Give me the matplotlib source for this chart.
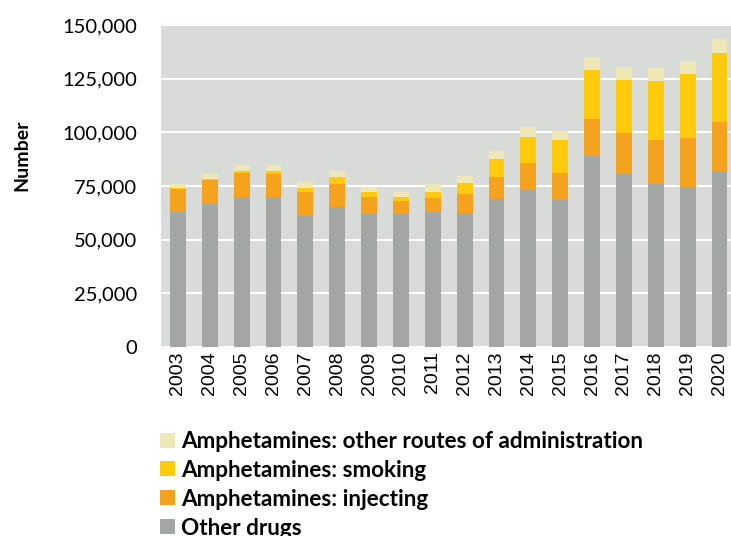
import matplotlib
matplotlib.use("Agg")
import matplotlib.pyplot as plt
import numpy as np
from matplotlib.ticker import FuncFormatter
from matplotlib.patches import Patch

years = [str(y) for y in range(2003, 2021)]
other_drugs = [62.9, 66.7, 69.9, 69.8, 60.8, 65.3, 62.0, 62.0, 62.9, 62.5,
               69.0, 73.2, 68.4, 89.0, 80.8, 76.0, 74.7, 82.1]
amph_injecting = [10.8, 11.2, 11.2, 10.9, 11.3, 10.8, 8.1, 6.1, 6.3, 8.8,
                  10.1, 12.6, 12.7, 17.3, 19.0, 20.5, 22.7, 22.8]
amph_smoking = [0.3, 0.4, 0.8, 1.5, 2.2, 3.0, 2.2, 1.8, 2.9, 5.2,
                8.4, 11.9, 15.2, 22.8, 24.5, 27.4, 29.9, 32.2]
amph_other_routes = [2.0, 2.4, 2.8, 2.5, 2.6, 2.8, 2.4, 2.2, 3.9, 3.2,
                     3.9, 4.6, 4.4, 5.9, 6.2, 6.0, 5.9, 6.2]

series = [
    ("Other drugs", other_drugs, "#A2A7A6"),
    ("Amphetamines: injecting", amph_injecting, "#F5A31F"),
    ("Amphetamines: smoking", amph_smoking, "#FDCB0B"),
    ("Amphetamines: other routes of administration", amph_other_routes, "#EEE8B6"),
]

fig = plt.figure(figsize=(7.31, 5.36), dpi=100)
ax = fig.add_axes([161 / 731, 1 - 347 / 536, 570 / 731, 322 / 536])
ax.set_facecolor("#D9DBD8")

x = np.arange(len(years))
bottom = np.zeros(len(years))
for name, vals, color in series:
    v = np.array(vals) * 1000
    ax.bar(x, v, width=0.5, bottom=bottom, color=color, zorder=3, linewidth=0)
    bottom += v

ax.set_xlim(-0.53, 17.36)
ax.set_ylim(0, 150000)
ax.set_yticks(np.arange(0, 150001, 25000))
ax.yaxis.set_major_formatter(FuncFormatter(lambda v, p: f"{int(v):,}"))
ax.grid(axis="y", color="white", linewidth=1.5, zorder=1)
ax.set_axisbelow(True)
for s in ax.spines.values():
    s.set_visible(False)

ax.set_xticks(x)
ax.set_xticklabels(years, rotation=90, family="Liberation Sans", fontsize=14)
ax.tick_params(axis="x", length=0, pad=3)
ax.tick_params(axis="y", length=0, pad=17, labelsize=14.5)
for t in ax.get_yticklabels():
    t.set_family("Lato")

fig.text(22 / 731, 1 - 155 / 536, "Number", rotation=90, ha="center", va="center",
         fontsize=14, fontweight="bold", family="Lato")

handles = [Patch(facecolor=c, edgecolor="none", label=n) for n, _, c in series[::-1]]
fig.legend(handles=handles, loc="upper left", bbox_to_anchor=(160 / 731, 1 - 431 / 536),
           frameon=False, prop={"family": "Lato", "weight": "bold", "size": 16.2},
           handlelength=0.65, handleheight=0.65, handletextpad=0.3,
           labelspacing=0.35, borderaxespad=0, borderpad=0)

fig.savefig("out.png", dpi=100)
